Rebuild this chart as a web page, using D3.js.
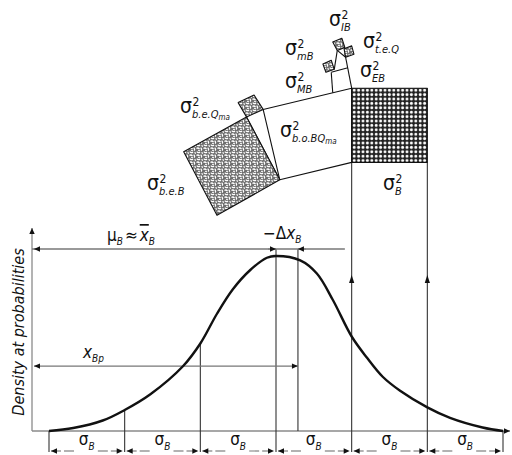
<!DOCTYPE html>
<html><head><meta charset="utf-8">
<script src="https://cdn.jsdelivr.net/npm/d3@7"></script>
<style>body{margin:0;background:#fff}svg{display:block}</style>
</head><body><svg id="c" width="512" height="455"></svg>
<script>
// ---------- data ----------
// distribution curve, x in units of sigma_B from the mean, density relative to peak
const sigmaSteps = [-3, -2, -1, 0, 1, 2, 3];
const curveSigma = [-3.0,-2.68,-2.29,-2.0,-1.66,-1.23,-1.0,-0.78,-0.57,-0.34,-0.12,0,0.32,0.54,0.75,1.0,1.2,1.41,1.64,2.0,2.3,2.73,3.0];
const curveDensity = [0,0.017,0.06,0.12,0.21,0.37,0.50,0.67,0.81,0.92,0.99,1.0,0.975,0.90,0.75,0.54,0.42,0.31,0.23,0.135,0.075,0.02,0];
const meanLevel = 1.04;      // level of the mu_B dimension line
const deltaShift = 0.29;     // -Delta x_B, in sigma
const deltaEnd = 0.91;       // right end of the Delta line
const xBpLevel = 0.371;      // level of the x_Bp dimension line
const intervalSymbol = "σ";
const intervalSub = "B";

// variance decomposition figure, vertices in sigma units (u along x, v up from baseline)
const squareB      = [[1,3.55],[2,3.55],[2,4.53],[1,4.53]];
const quadBoBQ     = [[-0.17,4.25],[1,4.53],[1,3.55],[0.05,3.32]];
const squareBeQ    = [[-0.50,4.34],[-0.29,4.44],[-0.17,4.25],[-0.39,4.15]];
const squareBeB    = [[-0.39,4.15],[0.05,3.32],[-0.78,2.85],[-1.22,3.69]];
const squareMB     = [[0.62,4.85],[0.73,4.90],[0.77,4.78],[0.66,4.74]];
const squareIB     = [[0.75,5.14],[0.87,5.19],[0.91,5.07],[0.81,5.03]];
const squareTeQ    = [[0.90,5.05],[1.00,5.09],[1.03,4.98],[0.92,4.94]];
const figureLines  = [
  [[-0.39,4.15],[0.05,3.32]],
  [[0.75,4.47],[0.73,4.74]],
  [[1.0,4.53],[0.91,4.99]],
  [[0.73,4.74],[0.95,4.80]],
  [[0.77,4.78],[0.81,5.03]],
  [[0.81,5.03],[0.92,4.94]]
];
const varianceSubs = ["IB","mB","t.e.Q","EB","MB","b.e.Q","b.o.BQ","B","b.e.B"];
const varianceSubMa = ["","","","","","ma","ma","",""];
const axisLabel = "Density at probabilities";

// ---------- layout ----------
const svg = d3.select("#c");
const FF = "'Liberation Sans Narrow','DejaVu Sans Condensed','Arial Narrow',sans-serif";
svg.attr("font-family", FF);
const x = d3.scaleLinear().domain([-3, 3]).range([49, 503]);
const y = d3.scaleLinear().domain([0, 1]).range([431, 256]);
const unit = x(1) - x(0);
const yF = d3.scaleLinear().domain([0, 1]).range([y(0), y(0) - unit]);
const axisX = 32, axisRight = 510, axisTop = 228, dimY = 451;

const defs = svg.append("defs");
defs.append("marker").attr("id","ah").attr("viewBox","0 0 10 10").attr("refX",10).attr("refY",5)
  .attr("markerWidth",8).attr("markerHeight",6).attr("markerUnits","userSpaceOnUse")
  .attr("orient","auto-start-reverse")
  .append("path").attr("d","M0,0.5 L10,5 L0,9.5 Z").attr("fill","#111");
const mesh = defs.append("pattern").attr("id","mesh").attr("width",4.4).attr("height",4.4)
  .attr("patternUnits","userSpaceOnUse");
mesh.append("rect").attr("width",4.4).attr("height",4.4).attr("fill","#222");
mesh.append("circle").attr("cx",2.2).attr("cy",2.2).attr("r",1.45).attr("fill","#fff");
const speck = defs.append("pattern").attr("id","speck").attr("width",7).attr("height",7)
  .attr("patternUnits","userSpaceOnUse");
speck.append("rect").attr("width",7).attr("height",7).attr("fill","#6e6e6e");
speck.append("path").attr("d","M0.5,1.5 Q2,0.3 3.5,2 M4.6,0.8 Q6.3,2 5.1,3.7 M0.8,4.6 Q2.5,6.6 4,5 M5.6,5.2 Q6.6,6 6.3,6.8 M2.2,3.2 Q3,3.8 3.8,3.3")
  .attr("stroke","#fff").attr("stroke-width",1.2).attr("fill","none");

const P = p => [x(p[0]), yF(p[1])];
const poly = (pts, fill) => svg.append("path")
  .attr("d", "M" + pts.map(P).map(q => q.join(",")).join("L") + "Z")
  .attr("fill", fill).attr("stroke","#111").attr("stroke-width",1.1).attr("stroke-linejoin","round");

// ---------- axes ----------
svg.append("line").attr("x1",axisX).attr("y1",y(0)).attr("x2",axisRight).attr("y2",y(0))
  .attr("stroke","#8a8a8a").attr("stroke-width",1.3).attr("marker-end","url(#ah)");
svg.append("line").attr("x1",axisX).attr("y1",y(0)).attr("x2",axisX).attr("y2",axisTop)
  .attr("stroke","#8a8a8a").attr("stroke-width",1.3).attr("marker-end","url(#ah)");

// ---------- vertical lines ----------
const vcol = "#333";
const vline = (xx, y1, y2) => svg.append("line").attr("x1",xx).attr("x2",xx).attr("y1",y1).attr("y2",y2)
  .attr("stroke",vcol).attr("stroke-width",1.1);
const densAt = s => curveDensity[curveSigma.indexOf(s)];
vline(x(-3), y(0), dimY + 1);
vline(x(-2), y(densAt(-2)), dimY + 1);
vline(x(-1), y(densAt(-1)), dimY + 1);
vline(x(0), y(meanLevel), dimY + 1);
vline(x(deltaShift), y(meanLevel), y(0));
vline(x(1), yF(squareB[0][1]), dimY + 1);
vline(x(2), yF(squareB[0][1]), dimY + 1);
vline(x(3), y(0), dimY + 1);
[1, 2].forEach(s => {
  const xx = x(s), ty = 275;
  svg.append("path").attr("d", `M${xx},${ty} L${xx-2.6},${ty+8} L${xx+2.6},${ty+8} Z`).attr("fill","#111");
});

// ---------- dimension lines ----------
const gcol = "#777";
svg.append("line").attr("x1",axisX).attr("x2",x(deltaEnd)).attr("y1",y(meanLevel)).attr("y2",y(meanLevel))
  .attr("stroke",gcol).attr("stroke-width",1.3);
svg.append("line").attr("x1",axisX+8).attr("x2",axisX+2).attr("y1",y(meanLevel)).attr("y2",y(meanLevel))
  .attr("stroke",gcol).attr("marker-end","url(#ah)");
svg.append("line").attr("x1",x(0)-8).attr("x2",x(0)).attr("y1",y(meanLevel)).attr("y2",y(meanLevel))
  .attr("stroke",gcol).attr("marker-end","url(#ah)");
svg.append("line").attr("x1",x(deltaShift)+8).attr("x2",x(deltaShift)).attr("y1",y(meanLevel)).attr("y2",y(meanLevel))
  .attr("stroke",gcol).attr("marker-end","url(#ah)");
svg.append("line").attr("x1",axisX+2).attr("x2",x(deltaShift)).attr("y1",y(xBpLevel)).attr("y2",y(xBpLevel))
  .attr("stroke",gcol).attr("stroke-width",1.3)
  .attr("marker-start","url(#ah)").attr("marker-end","url(#ah)");

for (let i = 0; i < sigmaSteps.length - 1; i++) {
  const a = x(sigmaSteps[i]), b = x(sigmaSteps[i+1]), m = (a + b) / 2;
  svg.append("line").attr("x1",a+2).attr("x2",m-12).attr("y1",dimY).attr("y2",dimY)
    .attr("stroke","#999").attr("stroke-width",1.3).attr("stroke-dasharray","10,3").attr("marker-start","url(#ah)");
  svg.append("line").attr("x1",m+11).attr("x2",b-2).attr("y1",dimY).attr("y2",dimY)
    .attr("stroke","#999").attr("stroke-width",1.3).attr("stroke-dasharray","10,3").attr("marker-end","url(#ah)");
  const t = svg.append("text").attr("x", m - 8).attr("y", dimY - 6).attr("font-size",17).attr("fill","#111").text(intervalSymbol);
  t.append("tspan").attr("font-size",10).attr("font-style","italic").attr("dy",5).text(intervalSub);
}

// ---------- curve ----------
svg.append("path")
  .datum(curveSigma.map((s, i) => [s, curveDensity[i]]))
  .attr("d", d3.line().x(d => x(d[0])).y(d => y(d[1])).curve(d3.curveCatmullRom.alpha(0.5)))
  .attr("fill","none").attr("stroke","#111").attr("stroke-width",2.4);

// ---------- variance figure ----------
poly(quadBoBQ, "#fff");
figureLines.forEach(l => svg.append("line")
  .attr("x1",P(l[0])[0]).attr("y1",P(l[0])[1]).attr("x2",P(l[1])[0]).attr("y2",P(l[1])[1])
  .attr("stroke","#111").attr("stroke-width",1.1));
poly(squareB, "url(#mesh)");
poly(squareBeB, "url(#speck)");
poly(squareBeQ, "url(#speck)");
poly(squareMB, "url(#speck)");
poly(squareIB, "url(#speck)");
poly(squareTeQ, "url(#speck)");

// ---------- texts ----------
const labelPos = [[329,26],[285,55],[363,48],[360,77],[285,88],[180,113],[280,137],[383,190],[147,190]];
varianceSubs.forEach((sub, i) => {
  const g = svg.append("g").attr("transform", `translate(${labelPos[i][0]},${labelPos[i][1]})`).attr("fill","#111");
  const s = g.append("text").attr("font-size",21).text("σ");
  const w = s.node().getComputedTextLength();
  g.append("text").attr("x", w + 0.5).attr("y", -7).attr("font-size",12).text("2");
  const t = g.append("text").attr("x", w).attr("y", 5).attr("font-size",11).attr("font-style","italic").text(sub);
  if (varianceSubMa[i]) t.append("tspan").attr("font-size",8).attr("dy",2).text(varianceSubMa[i]);
});

// mu_B ≈ x̄_B
const mu = svg.append("text").attr("x",107).attr("y",241).attr("font-size",17).attr("fill","#111");
mu.append("tspan").text("μ");
mu.append("tspan").attr("font-size",10).attr("font-style","italic").attr("dy",4).text("B");
mu.append("tspan").attr("dy",-4).attr("dx",2).text("≈");
mu.append("tspan").attr("dx",2).attr("font-style","italic").attr("text-decoration","overline").text("x");
mu.append("tspan").attr("font-size",10).attr("font-style","italic").attr("dy",4).text("B");

const dx = svg.append("text").attr("x",263).attr("y",239).attr("font-size",17).attr("fill","#111");
dx.append("tspan").text("−Δ");
dx.append("tspan").attr("font-style","italic").text("x");
dx.append("tspan").attr("font-size",10).attr("font-style","italic").attr("dy",4).text("B");

const xb = svg.append("text").attr("x",83).attr("y",358).attr("font-size",17).attr("fill","#111").attr("font-style","italic");
xb.append("tspan").text("x");
xb.append("tspan").attr("font-size",10).attr("dy",4).text("Bp");

svg.append("text").attr("transform","translate(24,332) rotate(-90)").attr("text-anchor","middle")
  .attr("font-size",16).attr("font-style","italic").attr("fill","#111").text(axisLabel);
</script></body></html>
